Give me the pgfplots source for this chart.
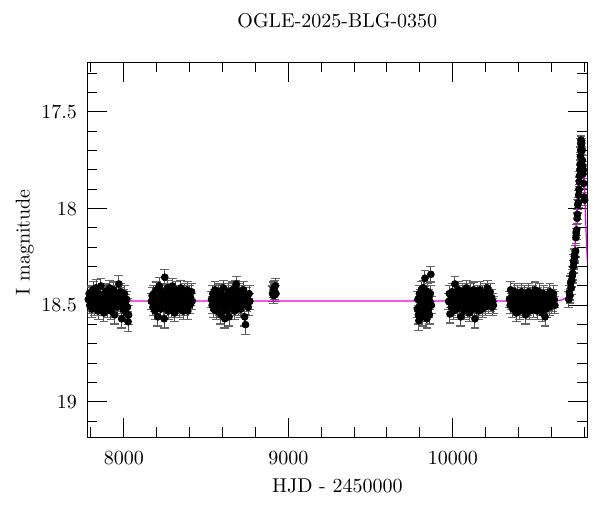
\documentclass[border=0pt]{standalone}
\usepackage{pgfplots}
\pgfplotsset{compat=1.18}
\usepackage{pgfplotstable}
\definecolor{modelc}{RGB}{230,0,230}
\pgfplotstableread{
x y e
7784 18.47 0.042
7789 18.44 0.040
7793 18.50 0.044
7797 18.45 0.042
7801 18.49 0.042
7806 18.52 0.045
7810 18.46 0.040
7814 18.42 0.042
7818 18.48 0.042
7823 18.51 0.044
7827 18.45 0.040
7831 18.41 0.042
7836 18.50 0.044
7840 18.47 0.042
7844 18.53 0.045
7849 18.44 0.040
7853 18.49 0.042
7857 18.46 0.042
7861 18.40 0.040
7866 18.48 0.042
7870 18.51 0.044
7874 18.45 0.042
7879 18.54 0.045
7883 18.47 0.042
7887 18.43 0.040
7892 18.50 0.044
7896 18.46 0.042
7900 18.52 0.044
7905 18.44 0.042
7909 18.49 0.042
7913 18.41 0.040
7918 18.48 0.042
7922 18.53 0.045
7926 18.45 0.042
7931 18.50 0.044
7935 18.47 0.042
7939 18.42 0.040
7944 18.55 0.047
7948 18.46 0.042
7952 18.49 0.042
7957 18.44 0.042
7961 18.51 0.044
7965 18.47 0.042
7970 18.39 0.042
7974 18.45 0.042
7978 18.50 0.044
7983 18.43 0.042
7987 18.57 0.048
7991 18.48 0.042
7996 18.52 0.044
8000 18.46 0.042
8004 18.44 0.042
8009 18.49 0.044
8013 18.54 0.045
8018 18.47 0.042
8022 18.51 0.044
8026 18.585 0.051
8029 18.55 0.048
}\seasA
\pgfplotstableread{
x y e
8168 18.48 0.042
8172 18.45 0.042
8177 18.51 0.044
8181 18.44 0.042
8185 18.49 0.042
8189 18.53 0.045
8193 18.47 0.042
8198 18.42 0.040
8202 18.50 0.044
8207 18.56 0.047
8211 18.46 0.042
8215 18.40 0.042
8219 18.49 0.042
8224 18.52 0.044
8228 18.45 0.042
8232 18.48 0.042
8236 18.43 0.040
8241 18.51 0.044
8245 18.57 0.048
8249 18.355 0.040
8253 18.47 0.042
8258 18.44 0.042
8262 18.50 0.044
8266 18.41 0.040
8270 18.53 0.045
8275 18.46 0.042
8279 18.49 0.042
8283 18.43 0.042
8287 18.52 0.044
8292 18.47 0.042
8296 18.40 0.040
8300 18.50 0.044
8304 18.45 0.042
8309 18.54 0.045
8313 18.48 0.042
8317 18.42 0.042
8321 18.51 0.044
8326 18.46 0.042
8330 18.49 0.042
8334 18.44 0.042
8338 18.52 0.044
8343 18.47 0.042
8347 18.41 0.040
8351 18.50 0.044
8355 18.45 0.042
8360 18.53 0.045
8364 18.48 0.042
8368 18.43 0.042
8372 18.51 0.044
8377 18.46 0.042
8381 18.49 0.042
8385 18.42 0.042
8389 18.53 0.045
8394 18.47 0.042
8398 18.44 0.042
8402 18.50 0.044
8406 18.46 0.042
8411 18.43 0.042
8415 18.48 0.042
}\seasB
\pgfplotstableread{
x y e
8533 18.47 0.042
8537 18.50 0.044
8541 18.44 0.042
8546 18.52 0.044
8550 18.46 0.042
8554 18.42 0.042
8558 18.49 0.042
8563 18.53 0.045
8567 18.45 0.042
8571 18.48 0.042
8576 18.43 0.040
8580 18.51 0.044
8584 18.47 0.042
8589 18.55 0.047
8593 18.44 0.042
8597 18.50 0.044
8601 18.46 0.042
8606 18.41 0.040
8610 18.52 0.044
8614 18.57 0.048
8618 18.48 0.042
8623 18.45 0.042
8627 18.53 0.045
8631 18.49 0.042
8636 18.43 0.042
8640 18.56 0.047
8644 18.47 0.042
8648 18.51 0.044
8653 18.44 0.042
8657 18.50 0.044
8661 18.42 0.040
8666 18.48 0.042
8670 18.46 0.042
8674 18.53 0.045
8679 18.41 0.040
8684 18.39 0.040
8688 18.49 0.042
8692 18.45 0.042
8697 18.51 0.044
8701 18.43 0.042
8705 18.47 0.042
8710 18.52 0.044
8714 18.44 0.042
8718 18.50 0.044
8723 18.46 0.042
8727 18.42 0.042
8731 18.48 0.042
8735 18.56 0.047
8740 18.60 0.051
8744 18.45 0.042
8748 18.49 0.042
8753 18.47 0.042
8757 18.51 0.044
8762 18.44 0.042
8766 18.48 0.042
8904 18.44 0.040
8908 18.42 0.040
8911 18.45 0.042
8914 18.41 0.040
8918 18.43 0.040
8921 18.40 0.040
8925 18.44 0.042
}\seasC
\pgfplotstableread{
x y e
9785 18.52 0.045
9788 18.47 0.042
9791 18.55 0.047
9794 18.58 0.050
9797 18.44 0.042
9800 18.50 0.044
9803 18.46 0.042
9806 18.53 0.045
9809 18.42 0.042
9812 18.49 0.042
9815 18.45 0.042
9818 18.56 0.047
9821 18.41 0.040
9824 18.48 0.042
9827 18.51 0.044
9831 18.36 0.040
9834 18.47 0.042
9837 18.54 0.045
9840 18.44 0.042
9843 18.57 0.048
9846 18.49 0.042
9849 18.43 0.042
9852 18.52 0.044
9855 18.46 0.042
9858 18.55 0.047
9861 18.48 0.042
9864 18.44 0.042
9867 18.34 0.040
9870 18.50 0.044
}\seasD
\pgfplotstableread{
x y e
9975 18.48 0.042
9979 18.44 0.042
9983 18.545 0.047
9987 18.47 0.042
9991 18.51 0.044
9996 18.43 0.042
10000 18.49 0.042
10004 18.53 0.045
10009 18.46 0.042
10013 18.39 0.040
10017 18.50 0.044
10022 18.44 0.042
10026 18.52 0.044
10030 18.47 0.042
10035 18.42 0.042
10039 18.50 0.044
10044 18.45 0.042
10049 18.56 0.047
10053 18.48 0.042
10057 18.43 0.042
10062 18.51 0.044
10066 18.46 0.042
10070 18.53 0.045
10075 18.44 0.042
10079 18.49 0.042
10083 18.41 0.040
10088 18.52 0.044
10092 18.47 0.042
10096 18.45 0.042
10101 18.54 0.045
10105 18.48 0.042
10109 18.43 0.042
10114 18.50 0.044
10118 18.46 0.042
10122 18.52 0.044
10127 18.42 0.040
10131 18.49 0.042
10135 18.57 0.048
10140 18.45 0.042
10144 18.51 0.044
10148 18.47 0.042
10153 18.44 0.042
10157 18.53 0.045
10161 18.48 0.042
10166 18.42 0.042
10170 18.50 0.044
10174 18.46 0.042
10179 18.52 0.044
10183 18.44 0.042
10187 18.49 0.042
10192 18.47 0.042
10196 18.51 0.044
10200 18.43 0.042
10205 18.48 0.042
10210 18.41 0.040
10214 18.45 0.042
10218 18.50 0.044
10223 18.47 0.042
10227 18.43 0.042
10231 18.49 0.042
10236 18.46 0.042
10240 18.51 0.044
10244 18.48 0.042
10247 18.50 0.044
}\seasE
\pgfplotstableread{
x y e
10345 18.47 0.042
10349 18.50 0.044
10352 18.42 0.042
10356 18.48 0.042
10360 18.45 0.042
10365 18.52 0.044
10369 18.46 0.042
10373 18.50 0.044
10378 18.43 0.042
10382 18.49 0.042
10386 18.54 0.045
10391 18.47 0.042
10395 18.44 0.042
10399 18.51 0.044
10404 18.46 0.042
10408 18.53 0.045
10412 18.48 0.042
10417 18.43 0.042
10421 18.50 0.044
10425 18.45 0.042
10430 18.52 0.044
10434 18.47 0.042
10438 18.44 0.042
10443 18.55 0.047
10447 18.49 0.042
10451 18.46 0.042
10456 18.51 0.044
10460 18.43 0.042
10464 18.48 0.042
10469 18.53 0.045
10473 18.45 0.042
10477 18.50 0.044
10482 18.47 0.042
10486 18.44 0.042
10490 18.52 0.044
10495 18.46 0.042
10500 18.42 0.040
10504 18.49 0.042
10508 18.47 0.042
10513 18.53 0.045
10517 18.45 0.042
10521 18.50 0.044
10526 18.43 0.042
10530 18.48 0.042
10534 18.51 0.044
10539 18.46 0.042
10543 18.54 0.045
10547 18.48 0.042
10552 18.44 0.042
10556 18.50 0.044
10561 18.56 0.047
10565 18.47 0.042
10569 18.52 0.044
10573 18.45 0.042
10578 18.49 0.042
10582 18.46 0.042
10586 18.51 0.044
10591 18.43 0.042
10595 18.48 0.042
10600 18.50 0.044
10604 18.46 0.042
10608 18.49 0.042
10612 18.44 0.042
10617 18.47 0.042
10621 18.50 0.044
}\seasF
\pgfplotstableread{
x y e
10706 18.47 0.040
10709 18.435 0.038
10713 18.45 0.038
10717 18.385 0.036
10720 18.41 0.036
10723 18.37 0.035
10726 18.35 0.035
10729 18.335 0.034
10732 18.30 0.033
10735 18.27 0.032
10737 18.28 0.032
10740 18.24 0.031
10743 18.25 0.031
10747 18.22 0.030
10749 18.15 0.029
10751 18.13 0.029
10753 18.11 0.028
10756 18.05 0.027
10758 18.03 0.027
10760 17.98 0.026
10763 17.97 0.026
10765 17.93 0.025
10767 17.90 0.025
10769 17.86 0.024
10771 17.83 0.024
10773 17.80 0.023
10774 17.77 0.023
10776 17.73 0.022
10778 17.70 0.022
10779 17.66 0.022
10780 17.645 0.021
10782 17.67 0.022
10784 17.66 0.022
10786 17.70 0.022
10788 17.75 0.023
10790 17.78 0.023
10792 17.82 0.024
10794 17.80 0.023
10796 17.87 0.024
10798 17.94 0.025
10802 17.956 0.026
}\seasG
\pgfplotstableread{
x y
7770 18.478
10600 18.478
10640 18.476
10665 18.472
10685 18.463
10700 18.450
10710 18.433
10718 18.405
10725 18.370
10730 18.335
10735 18.285
10740 18.225
10745 18.155
10750 18.070
10755 17.985
10760 17.895
10765 17.805
10770 17.720
10774 17.665
10778 17.635
10781 17.628
10784 17.635
10788 17.660
10792 17.700
10796 17.770
10800 17.860
10804 17.960
10808 18.060
10812 18.150
10816 18.230
10820 18.290
}\model
\pgfplotsset{
  lcpts/.style={only marks, mark=*, mark size=1.7pt, black,
    error bars/.cd, y dir=both, y explicit, error mark=-,
    error bar style={black!70, line width=0.5pt},
    error mark options={rotate=90, black!60, mark size=2.2pt, line width=0.6pt}}
}
\begin{document}
\begin{tikzpicture}
\path[use as bounding box] (0,0) rectangle (300pt,256pt);
\begin{axis}[
  at={(43.65pt,37.35pt)}, anchor=south west,
  scale only axis, width=250pt, height=187.5pt,
  xmin=7778, xmax=10818, ymin=17.243, ymax=19.183, y dir=reverse,
  axis line style={line width=0.5pt},
  xtick={8000,9000,10000},
  minor xtick={7800,8200,8400,8600,8800,9200,9400,9600,9800,10200,10400,10600,10800},
  ytick={17.5,18,18.5,19},
  minor ytick={17.3,17.4,17.6,17.7,17.8,17.9,18.1,18.2,18.3,18.4,18.6,18.7,18.8,18.9,19.1},
  tick align=inside,
  major tick length=9.75pt, minor tick length=5pt,
  every tick/.style={black, line width=0.5pt},
  scaled x ticks=false,
  x tick label style={/pgf/number format/1000 sep={}, yshift=-3.4pt},
  y tick label style={xshift=-1.7pt},
  title={OGLE-2025-BLG-0350},
  title style={at={(axis description cs:0.5,1)}, anchor=center, yshift=14.7pt},
  xlabel={HJD - 2450000},
  xlabel style={at={(axis description cs:0.5,-0.13)}, anchor=center},
  ylabel={I magnitude},
  ylabel style={at={(axis description cs:-0.125,0.52)}, anchor=center},
]
\addplot[lcpts] table[x=x,y=y,y error=e]{\seasA};
\addplot[lcpts] table[x=x,y=y,y error=e]{\seasB};
\addplot[lcpts] table[x=x,y=y,y error=e]{\seasC};
\addplot[lcpts] table[x=x,y=y,y error=e]{\seasD};
\addplot[lcpts] table[x=x,y=y,y error=e]{\seasE};
\addplot[lcpts] table[x=x,y=y,y error=e]{\seasF};
\addplot[lcpts] table[x=x,y=y,y error=e]{\seasG};
\addplot[modelc, line width=0.6pt, no marks] table[x=x,y=y]{\model};
\end{axis}
\end{tikzpicture}
\end{document}
